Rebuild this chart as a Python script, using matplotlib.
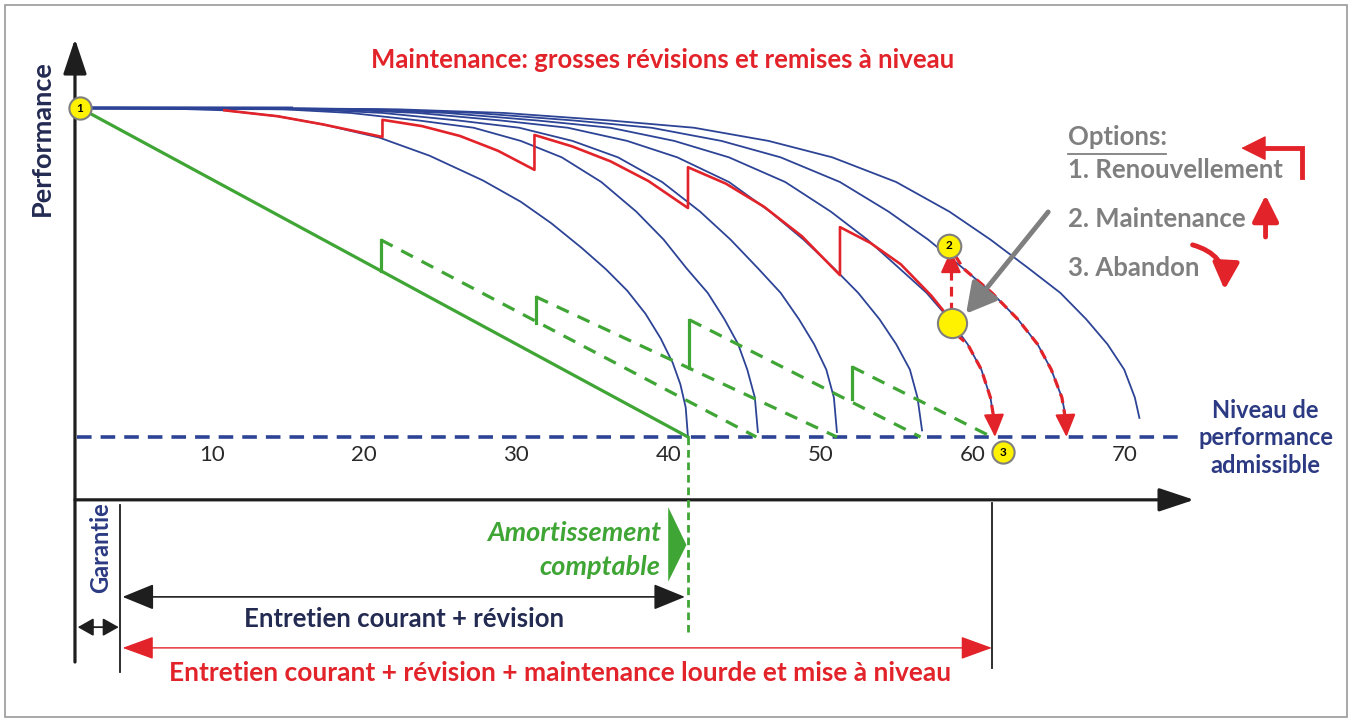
import matplotlib
matplotlib.use("Agg")
import matplotlib.pyplot as plt
from matplotlib.patches import Rectangle, Polygon

plt.rcParams['font.family'] = ['Lato', 'DejaVu Sans']
plt.rcParams['lines.scale_dashes'] = False

# --- valeurs lues sur le schema (annees / performance, 0 = niveau admissible) ---
# courbe qui finit a 40 ans
curveA_years = [0, 6, 9.5, 13, 16, 19.7, 23, 26.5, 29, 31, 33, 34.6, 36, 37.2, 38.2, 39, 39.5, 39.85, 40]
curveA_perf = [100, 99.8, 99.3, 97.5, 95, 91, 85.5, 78, 71.5, 65, 57.5, 51, 44.5, 37.5, 30, 22.5, 16, 9, 0]

# autres courbes de vieillissement
curve_years = [
    [0, 8.9, 13.4, 17.8, 22.3, 25.9, 29.0, 31.7, 34.3, 36.6, 38.4, 39.9, 41.3, 42.4, 43.3, 43.9, 44.4, 44.6],
    [0, 10.0, 14.9, 19.9, 24.9, 28.9, 32.4, 35.4, 38.3, 40.8, 42.8, 44.6, 46.1, 47.3, 48.3, 49.1, 49.6, 49.8],
    [0, 11.1, 16.6, 22.2, 27.7, 32.1, 36.0, 39.3, 42.7, 45.4, 47.6, 49.6, 51.2, 52.6, 53.7, 54.6, 55.1, 55.4],
    [0, 12.0, 18.1, 24.1, 30.1, 34.9, 39.1, 42.7, 46.4, 49.4, 51.8, 53.9, 55.7, 57.2, 58.4, 59.3, 59.9, 60.2],
    [0, 13.0, 19.5, 26.0, 32.5, 37.6, 42.2, 46.1, 50.0, 53.2, 55.8, 58.1, 60.0, 61.7, 63.0, 63.9, 64.6, 64.9],
    [0, 13.9, 20.9, 27.9, 34.9, 40.4, 45.3, 49.5, 53.7, 57.2, 59.9, 62.4, 64.5, 66.2, 67.6, 68.7, 69.4, 69.7],
]
curve_perf = [100, 99.9, 99.6, 98.5, 96.2, 94, 90, 85, 77.5, 68.5, 60, 51.3, 43.8, 35.8, 28.2, 20.5, 12]
curve_end_perf = [1.5, 1.5, 2.0, 3.0, 5.0, 5.8]

# maintenance (trait rouge avec remises a niveau)
red_years = [9.5, 13, 16, 19.9, 19.9, 22.5, 25, 27.5, 29.9,
             29.9, 32.4, 34.9, 37.4, 40.0,
             40.0, 42.5, 45, 47.5, 50.0,
             50.0, 52, 54, 56, 57.4]
red_perf = [99.3, 97.5, 95, 91.2, 96.4, 94.5, 91.5, 87, 81.2,
            91.8, 88.3, 83.8, 77.8, 69.6,
            82, 77, 70, 61, 49.2,
            63.8, 59, 52.5, 43, 35]

# options en fin de vie
renew_years = [57.3, 57.3, 57.3]
renew_perf = [38, 52, 56.8]
maint_years = [57.6, 58.1, 60.0, 61.7, 63.0, 63.9, 64.6, 64.85, 64.9]
maint_perf = [55, 51.3, 43.8, 35.8, 28.2, 20.5, 12, 5, 0]
aband_years = [57.7, 58.4, 59.3, 59.9, 60.15, 60.2]
aband_perf = [31, 28.2, 20.5, 12, 5, 0]

# amortissement comptable
green_years = [0, 40]
green_perf = [100, 0]
green_jump_years = [19.8, 30.0, 40.1, 50.8]
green_jump_low = [50.5, 34.7, 21.0, 11.5]
green_jump_high = [59.9, 42.6, 35.6, 21.3]
green_end_years = [44.5, 49.8, 55.3, 60.0]

tick_values = [10, 20, 30, 40, 50, 60, 70]

BLUE = '#2D4496'
NAVY = '#2B3A82'
DARK = '#232B52'
RED = '#E2232A'
GREEN = '#3FA535'
GREY = '#7F7F7F'
YELLOW = '#FFF200'

fig = plt.figure(figsize=(13.49, 7.22), dpi=100)
ax = fig.add_axes([0, 0, 1, 1])
ax.set_xlim(-5.263, 83.49)
ax.set_ylim(-86.63, 132.83)
ax.axis('off')

fig.patches.append(Rectangle((5 / 1349, 5 / 722), 1342 / 1349, 712 / 722,
                             transform=fig.transFigure, fill=False,
                             edgecolor='#9A9A9A', lw=1.2))

# axes
ax.annotate('', xy=(-0.33, 121), xytext=(-0.33, -68.4),
            arrowprops=dict(arrowstyle='-|>,head_length=1.2,head_width=0.4',
                            mutation_scale=18, lw=2.3, color='#1E1E1E',
                            shrinkA=0, shrinkB=0))
ax.annotate('', xy=(73.3, -19.1), xytext=(-0.33, -19.1),
            arrowprops=dict(arrowstyle='-|>,head_length=1.2,head_width=0.4',
                            mutation_scale=18, lw=2.3, color='#1E1E1E',
                            shrinkA=0, shrinkB=0))

# courbes bleues
ax.plot(curveA_years, curveA_perf, color=BLUE, lw=1.3, zorder=2, solid_joinstyle='round')
for yrs, end in zip(curve_years, curve_end_perf):
    ax.plot(yrs, curve_perf + [end], color=BLUE, lw=1.3, zorder=2, solid_joinstyle='round')
ax.plot(curve_years[-1][:2], curve_perf[:2], color=BLUE, lw=2.6, zorder=2)

# niveau admissible
ax.plot([-0.2, 72.4], [0, 0], color=BLUE, lw=2.6, dashes=(10.5, 6.5), zorder=3)

# amortissement
ax.plot(green_years, green_perf, color=GREEN, lw=2.3, zorder=4)
for x, lo, hi, xe in zip(green_jump_years, green_jump_low, green_jump_high, green_end_years):
    ax.plot([x, x], [lo, hi], color=GREEN, lw=2.3, zorder=4)
    ax.plot([x, xe], [hi, 0], color=GREEN, lw=2.3, dashes=(9.5, 7), zorder=4)
ax.plot([40, 40], [0, -59.3], color=GREEN, lw=2, dashes=(5.5, 3.5), zorder=4)

# maintenance
ax.plot(red_years, red_perf, color=RED, lw=1.9, zorder=5, solid_joinstyle='round')
for xs, ys in [(renew_years, renew_perf), (maint_years, maint_perf), (aband_years, aband_perf)]:
    ax.plot(xs[:-1], ys[:-1], color=RED, lw=2.3, dashes=(7, 4.5), zorder=5)
    ax.annotate('', xy=(xs[-1], ys[-1]), xytext=(xs[-2], ys[-2]),
                arrowprops=dict(arrowstyle='-|>,head_length=1.0,head_width=0.45',
                                mutation_scale=14, lw=1.5, color=RED,
                                shrinkA=0, shrinkB=0), zorder=5)

# points
ax.plot(0, 100, 'o', ms=16, mfc=YELLOW, mec=GREY, mew=1.5, zorder=7)
ax.text(0, 100, '1', ha='center', va='center', fontsize=8.5, fontweight='bold', zorder=8)
ax.plot(57.2, 58.2, 'o', ms=17, mfc=YELLOW, mec=GREY, mew=1.5, zorder=7)
ax.text(57.2, 58.2, '2', ha='center', va='center', fontsize=8.5, fontweight='bold', zorder=8)
ax.plot(57.4, 34.5, 'o', ms=21, mfc=YELLOW, mec=GREY, mew=1.5, zorder=7)
ax.plot(60.7, -4.6, 'o', ms=16, mfc=YELLOW, mec=GREY, mew=1.5, zorder=7)
ax.text(60.7, -4.6, '3', ha='center', va='center', fontsize=8.5, fontweight='bold', zorder=8)

# fleche grise
ax.annotate('', xy=(58.3, 37.5), xytext=(63.7, 68.4),
            arrowprops=dict(arrowstyle='-|>,head_length=1.0,head_width=0.55',
                            mutation_scale=18, lw=3.5, color=GREY,
                            shrinkA=0, shrinkB=0), zorder=6)

# graduations
for v in tick_values:
    ax.text(v - 1.3, -5.6, str(v), ha='center', va='center', fontsize=16, color='#2A2A2A')

# textes
ax.text(38.3, 114.6, 'Maintenance: grosses révisions et remises à niveau', ha='center',
        va='center', fontsize=18.5, fontweight='bold', color=RED)
ax.text(-2.5, 90.9, 'Performance', rotation=90, ha='center', va='center',
        fontsize=19.5, fontweight='bold', color=DARK)
ax.text(78.0, -0.3, 'Niveau de\nperformance\nadmissible', ha='center', va='center',
        fontsize=17, fontweight='bold', color=NAVY, linespacing=1.25)

ax.text(65.0, 91.2, 'Options:', ha='left', va='center', fontsize=18.5, fontweight='bold', color=GREY)
ax.plot([65.0, 71.45], [86.0, 86.0], color=GREY, lw=1.3)
ax.text(65.0, 81.2, '1. Renouvellement', ha='left', va='center', fontsize=18.5, fontweight='bold', color=GREY)
ax.text(65.0, 66.3, '2. Maintenance', ha='left', va='center', fontsize=18.5, fontweight='bold', color=GREY)
ax.text(65.0, 51.4, '3. Abandon', ha='left', va='center', fontsize=18.5, fontweight='bold', color=GREY)

# petites fleches des options
ax.plot([80.4, 80.4, 78.0], [79.0, 87.8, 87.8], color=RED, lw=3.5, solid_joinstyle='miter')
ax.annotate('', xy=(76.4, 87.8), xytext=(78.3, 87.8),
            arrowprops=dict(arrowstyle='-|>,head_length=1.0,head_width=0.5',
                            mutation_scale=16, lw=1, color=RED, shrinkA=0, shrinkB=0))
ax.annotate('', xy=(78.0, 73.5), xytext=(78.0, 60.8),
            arrowprops=dict(arrowstyle='-|>,head_length=1.0,head_width=0.5',
                            mutation_scale=16, lw=3.5, color=RED, shrinkA=0, shrinkB=0))
ax.annotate('', xy=(75.3, 44.8), xytext=(73.2, 58.4),
            arrowprops=dict(arrowstyle='-|>,head_length=1.0,head_width=0.5',
                            mutation_scale=16, lw=3.5, color=RED, shrinkA=0, shrinkB=0,
                            connectionstyle='arc3,rad=-0.4'))

# bas du schema
ax.plot([2.63, 2.63], [-20.7, -71.4], color='#1E1E1E', lw=1.3)
ax.plot([60.0, 60.0], [-20.0, -70.2], color='#1E1E1E', lw=1.3)
ax.annotate('', xy=(-0.15, -57.8), xytext=(2.55, -57.8),
            arrowprops=dict(arrowstyle='<|-|>,head_length=0.8,head_width=0.45',
                            mutation_scale=12, lw=1.3, color='#1E1E1E', shrinkA=0, shrinkB=0))
ax.text(1.35, -33.5, 'Garantie', rotation=90, ha='center', va='center',
        fontsize=17, fontweight='bold', color=NAVY)

ax.annotate('', xy=(39.8, -48.6), xytext=(2.8, -48.6),
            arrowprops=dict(arrowstyle='<|-|>,head_length=1.1,head_width=0.45',
                            mutation_scale=18, lw=1.2, color='#1E1E1E', shrinkA=0, shrinkB=0))
ax.text(21.3, -55.2, 'Entretien courant + révision', ha='center', va='center',
        fontsize=18.5, fontweight='bold', color=DARK)

ax.annotate('', xy=(60.0, -64.1), xytext=(2.8, -64.1),
            arrowprops=dict(arrowstyle='<|-|>,head_length=1.1,head_width=0.4',
                            mutation_scale=18, lw=1.0, color=RED, shrinkA=0, shrinkB=0))
ax.text(31.6, -71.6, 'Entretien courant + révision + maintenance lourde et mise à niveau',
        ha='center', va='center', fontsize=19, fontweight='bold', color=RED)

ax.add_patch(Polygon([(38.7, -21.3), (38.7, -44.0), (39.9, -32.8)], closed=True,
                     facecolor=GREEN, edgecolor='none'))
ax.text(38.2, -29.2, 'Amortissement', ha='right', va='center', fontsize=19.5,
        fontweight='bold', fontstyle='italic', color=GREEN)
ax.text(38.2, -39.5, 'comptable', ha='right', va='center', fontsize=19.5,
        fontweight='bold', fontstyle='italic', color=GREEN)

fig.savefig('out.png', dpi=100)
